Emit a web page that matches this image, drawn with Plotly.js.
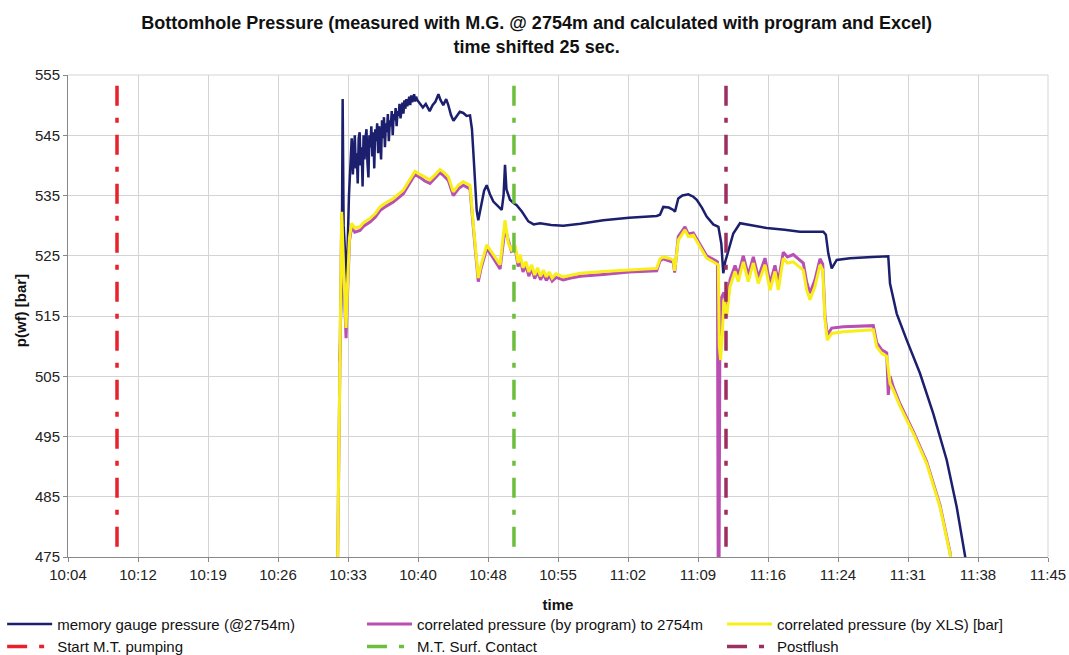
<!DOCTYPE html>
<html>
<head>
<meta charset="utf-8">
<script src="https://cdn.plot.ly/plotly-3.0.1.min.js"></script>
<style>
html,body{margin:0;padding:0;background:#fff;}
#chart{width:1069px;height:655px;}
</style>
</head>
<body>
<div id="chart"></div>
<script>
// time axis: minutes after 10:00
const tickMinutes = [4.8, 12, 19.2, 26.4, 33.6, 40.8, 48, 55.2, 62.4, 69.6, 76.8, 84, 91.2, 98.4, 105.6];
const tickLabels = ["10:04","10:12","10:19","10:26","10:33","10:40","10:48","10:55","11:02","11:09","11:16","11:24","11:31","11:38","11:45"];
const pressureTicks = [475, 485, 495, 505, 515, 525, 535, 545, 555];

// memory gauge pressure (@2754m)
const gaugeTime = [32.75,32.95,33.05,33.15,33.47,33.7,33.98,
  34.0,34.1,34.2,34.3,34.4,34.5,34.6,34.7,34.8,34.9,35.0,35.1,35.2,35.3,35.4,35.5,35.6,35.7,35.8,35.9,
  36.0,36.1,36.2,36.3,36.4,36.5,36.6,36.7,36.8,36.9,37.0,37.1,37.2,37.3,37.4,37.5,37.6,37.7,37.8,37.9,
  38.0,38.1,38.2,38.3,38.4,38.5,38.6,38.7,38.8,38.9,39.0,39.1,39.2,39.3,39.4,39.5,39.6,39.7,39.8,39.9,
  40.0,40.1,40.2,40.3,40.4,40.5,40.6,40.7,41.0,41.3,41.6,42.0,42.3,42.6,42.9,43.1,43.4,43.7,43.9,44.2,44.45,44.8,45.1,45.46,45.8,46.15,
  46.35,46.5,46.7,46.84,47.0,47.3,47.6,47.87,48.2,48.55,49.0,49.41,49.6,49.75,49.9,50.26,50.6,50.95,51.5,52.15,52.7,53.35,54.5,55.74,57.5,59.86,62.5,65.35,65.69,66.03,66.6,67.06,67.23,67.57,68.0,68.6,69.12,69.47,70.0,70.49,71.17,71.7,72.0,72.2,72.4,72.72,73.23,73.92,75.0,76.67,78.5,80.09,82.49,82.75,83.0,83.35,83.87,85.23,87.5,89.17,89.35,90.04,91.07,92.43,93.8,95.18,96.21,97.06,97.3];
const gaugeP = [507.5,520,551,530,520.6,535,544.5,
  544.0,538.5,543.0,545.0,539.5,542.0,537.0,544.5,545.5,540.0,543.0,536.5,545.0,541.0,544.5,546.0,540.5,538.0,545.0,543.0,
  546.5,541.5,545.5,539.5,546.0,544.0,547.0,542.0,546.5,545.0,541.0,547.5,544.5,548.0,543.0,547.0,545.5,548.5,544.0,547.5,
  546.5,549.0,545.0,548.5,547.5,549.5,546.5,549.0,548.2,550.2,547.8,549.6,550.4,548.6,550.8,549.4,551.0,549.8,550.6,551.4,
  550.0,551.6,550.5,551.2,551.8,550.6,551.4,550.9,550.3,549.6,550.2,549.0,550.0,550.6,551.8,550.9,550.0,551.0,550.1,548.3,547.4,548.2,548.9,548.7,548.2,548.3,
  546,542,536,532.5,530.9,533.5,535.8,536.7,535.2,534,533.2,532.6,535,540.1,536,534.3,533.8,533.4,532.3,530.7,530.2,530.4,530.1,530,530.3,530.9,531.3,531.6,531.8,533.1,533,532.6,532.3,534.5,535,535.2,534.8,534.3,533,531.5,530.2,529.8,527,522.1,524,526,528.7,530.4,530.1,529.6,529.3,529,529,528.5,525.4,522.9,524.3,524.6,524.8,524.9,520.4,515.4,511,505.5,498.8,491.1,483.3,475.1,473];

// correlated pressure (by program) to 2754m
const progTime = [32.5,32.75,32.85,32.95,33.1,33.29,33.4,33.55,33.75,33.98,34.3,34.83,35.2,35.86,36.4,36.89,37.5,38.26,38.8,39.29,39.9,40.49,41.0,41.5,42.03,42.6,43.06,43.5,43.92,44.43,45.0,45.46,46.15,46.5,47.0,47.3,47.87,48.55,49.24,49.75,50.1,50.4,50.78,51.1,51.3,51.6,51.9,52.2,52.5,52.8,53.1,53.4,53.7,54.0,54.3,54.6,55.0,55.74,56.5,57.5,59.86,62.5,65.35,65.7,66.03,66.6,67.06,67.2,67.57,68.26,68.6,69.12,69.47,69.98,70.49,71.17,71.6,71.68,71.76,71.85,72.0,72.27,72.55,72.89,73.41,73.74,74.26,74.77,75.29,75.8,76.49,77.01,77.52,77.86,78.37,78.8,79.4,80.43,80.78,81.12,81.63,82.15,82.43,82.66,82.9,83.35,84.55,87.63,87.98,88.49,89.01,89.17,89.35,89.69,90.38,91.75,93.12,94.49,95.52,95.8];
const progP = [470,500,519,531.8,524.5,514.5,511.3,518.5,527.5,529.8,528.9,529.2,529.9,530.6,531.4,532.5,533.2,533.9,534.6,535.3,536.9,538.5,538,537.4,537,537.9,538.8,538.2,537.5,535,536.2,536.7,536.1,529.5,520.7,523,526.2,524.6,522.8,529.5,527.6,525.8,526.4,523.2,524.6,522.3,523.4,521.6,522.9,521.2,522.4,521,522,520.9,521.7,520.8,521.4,521,521.3,521.6,521.9,522.3,522.5,524.2,524.5,524.2,523.9,522.2,528.2,529.8,528.6,528.8,527.8,526.3,525,524.4,524,470,470,512,518,518.9,516.2,521,523.4,521.8,525,521.8,524.8,521.4,524.6,520.4,523.4,520.6,525.6,524.8,525.2,523.8,520.6,518.8,521,524.5,523.6,515,511.8,513,513.2,513.4,510.6,509.4,508.9,501.9,505,503.2,500.4,495.8,490.8,483.6,475.8,472];

// correlated pressure (by XLS) [bar]
const xlsTime = [32.5,32.75,32.85,32.95,33.1,33.29,33.4,33.55,33.75,33.98,34.3,34.83,35.2,35.86,36.4,36.89,37.5,38.26,38.8,39.29,39.9,40.49,41.0,41.5,42.03,42.6,43.06,43.5,43.92,44.43,45.0,45.46,46.15,46.5,47.0,47.3,47.87,48.55,49.24,49.75,50.1,50.4,50.78,51.1,51.3,51.6,51.9,52.2,52.5,52.8,53.1,53.4,53.7,54.0,54.3,54.6,55.0,55.74,56.5,57.5,59.86,62.5,65.35,65.7,66.03,66.6,67.06,67.2,67.57,68.26,68.6,69.12,69.47,69.98,70.49,71.17,71.35,71.69,71.79,71.93,72.1,72.27,72.55,72.89,73.41,73.74,74.26,74.77,75.29,75.8,76.49,77.01,77.52,77.86,78.37,78.8,79.4,80.43,80.78,81.12,81.63,82.15,82.43,82.66,82.9,83.35,84.55,87.63,87.98,88.49,89.01,89.35,89.69,90.38,91.75,93.12,94.49,95.52,95.8];
const xlsP = [470,500,520,532.3,525,516,513,520,528,530.4,529.6,529.8,530.5,531.2,532,533.1,533.8,534.5,535.2,535.9,537.5,539,538.5,538,537.6,538.5,539.3,538.8,538.1,535.6,536.8,537.3,536.7,530,521.3,523.5,526.8,525.2,523.5,530.9,527,526,526.8,523.8,525.2,523,524,522.3,523.5,521.8,523,521.6,522.6,521.5,522.3,521.3,522,521.5,521.8,522.1,522.4,522.7,522.9,524.5,524.8,524.6,524.3,522.5,527.6,529.3,528.2,528.4,527.5,526,524.6,524,523.8,523.5,509.9,507.7,512,517.7,514.9,519.9,522.4,520.7,524,520.7,523.8,520.4,523.5,519.3,522.4,519.3,524.6,523.8,524,522.6,519.3,517.7,519.9,523.5,522.6,514.3,511,512.1,512.4,512.7,509.9,508.8,508.3,503.8,502.7,500,495.5,490.5,483.3,475.6,472];

// event markers
const eventNames = ["Start M.T. pumping", "M.T. Surf. Contact", "Postflush"];
const eventTimes = [9.84, 50.67, 72.48];
const eventRange = [553.2, 475];

const seriesNames = ["memory gauge pressure (@2754m)", "correlated pressure (by program) to 2754m", "correlated pressure (by XLS) [bar]"];
const eventColors = ["#e8222b", "#6cbe3c", "#9c2e60"];
const legendIds = ["legend", "legend2", "legend3"];

const traces = [
  {x: gaugeTime, y: gaugeP, name: seriesNames[0], legend: legendIds[0], mode: "lines", line: {color: "#1c1f6e", width: 2.5}},
  {x: progTime, y: progP, name: seriesNames[1], legend: legendIds[1], mode: "lines", line: {color: "#b94fb3", width: 3}},
  {x: xlsTime, y: xlsP, name: seriesNames[2], legend: legendIds[2], mode: "lines", line: {color: "#f7ee1a", width: 3}}
];
eventNames.forEach((n, i) => {
  traces.push({x: [eventTimes[i], eventTimes[i]], y: eventRange, name: n, legend: legendIds[i], mode: "lines",
    line: {color: eventColors[i], width: 3.5, dash: "20px,12px,5px,12px"}});
});

const font = "Arial, 'Liberation Sans', sans-serif";
function legendAt(x) {
  return {
    orientation: "v", xref: "container", yref: "container",
    x: x, xanchor: "left", y: 0.072, yanchor: "top",
    font: {family: font, size: 15, color: "#111"},
    tracegroupgap: 0, itemwidth: 45, bgcolor: "rgba(0,0,0,0)"
  };
}
const layout = {
  width: 1069, height: 655,
  paper_bgcolor: "#fff", plot_bgcolor: "#fff",
  margin: {l: 68, r: 21, t: 75, b: 98, autoexpand: false},
  font: {family: font, size: 15, color: "#222"},
  title: {
    text: "<b>Bottomhole Pressure (measured with M.G. @ 2754m and calculated with program and Excel)<br>time shifted 25 sec.</b>",
    x: 0.502, xref: "container", xanchor: "center",
    y: 0.955, yref: "container", yanchor: "top",
    font: {family: font, size: 18, color: "#111"}
  },
  xaxis: {
    range: [4.8, 105.6], tickvals: tickMinutes, ticktext: tickLabels,
    showgrid: true, gridcolor: "#d4d4d4", gridwidth: 1,
    showline: true, linecolor: "#888", linewidth: 1,
    ticks: "outside", ticklen: 4, tickcolor: "#888",
    zeroline: false, automargin: false,
    tickfont: {family: font, size: 15, color: "#222"},
    title: {text: "<b>time</b>", font: {family: font, size: 15, color: "#111"}, standoff: 17}
  },
  yaxis: {
    range: [475, 555], tickvals: pressureTicks,
    showgrid: true, gridcolor: "#d4d4d4", gridwidth: 1,
    showline: true, linecolor: "#888", linewidth: 1,
    ticks: "outside", ticklen: 4, tickcolor: "#888",
    zeroline: false, automargin: false,
    tickfont: {family: font, size: 15, color: "#222"}
  },
  annotations: [{
    text: "<b>p(wf) [bar]</b>", textangle: -90, showarrow: false,
    xref: "paper", yref: "paper", x: -0.049, y: 0.512, xanchor: "center", yanchor: "middle",
    font: {family: font, size: 15, color: "#111"}
  }],
  showlegend: true,
  legend: legendAt(0.002),
  legend2: legendAt(0.3386),
  legend3: legendAt(0.6754),
  shapes: [
    {type: "line", xref: "paper", yref: "paper", x0: 1, x1: 1, y0: 0, y1: 1, line: {color: "#d4d4d4", width: 1}},
    {type: "line", xref: "paper", yref: "paper", x0: 0, x1: 1, y0: 1, y1: 1, line: {color: "#d4d4d4", width: 1}}
  ]
};

Plotly.newPlot("chart", traces, layout, {displayModeBar: false, staticPlot: true});
</script>
</body>
</html>
